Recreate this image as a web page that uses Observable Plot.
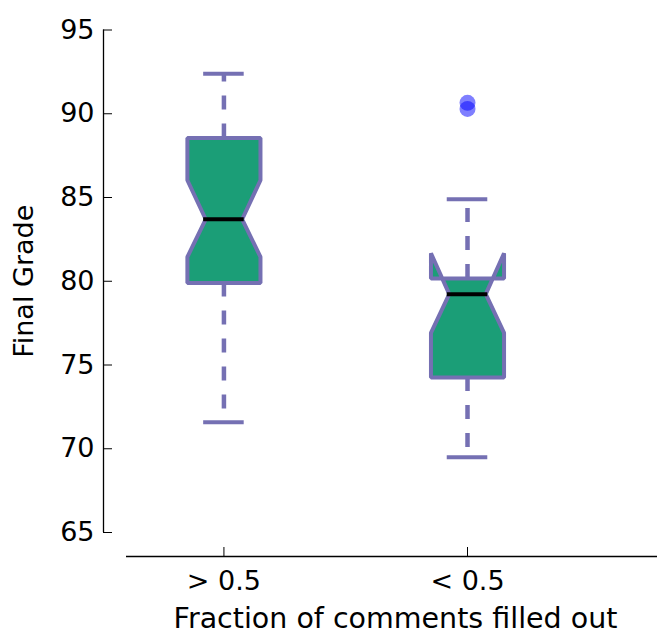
<!DOCTYPE html>
<html>
<head>
<meta charset="utf-8">
<script src="https://cdn.jsdelivr.net/npm/d3@7"></script>
<script src="https://cdn.jsdelivr.net/npm/@observablehq/plot@0.6"></script>
<style>
  html, body { margin: 0; padding: 0; background: white; }
</style>
</head>
<body>
<div id="chart"></div>
<script>
// ---- data ----
const groups = ["> 0.5", "< 0.5"];
const positions = [1, 2];
const whiskerLow = [71.58, 69.49];
const q1 = [79.9, 74.26];
const notchLow = [81.45, 76.92];
const median = [83.7, 79.23];
const notchHigh = [86.03, 81.67];
const q3 = [88.55, 80.16];
const whiskerHigh = [92.39, 84.89];
const flierGroup = ["< 0.5", "< 0.5"];
const flierValue = [90.65, 90.29];
const yTicks = [65, 70, 75, 80, 85, 90, 95];
const yLabel = "Final Grade";
const xLabel = "Fraction of comments filled out";

// ---- derived tables ----
const boxHalf = 0.15;   // half box width (x units)
const capHalf = 0.075;  // half notch waist / cap width
const boxes = groups.map((g, i) => ({
  group: g, pos: positions[i],
  lo: whiskerLow[i], q1: q1[i], nlo: notchLow[i], med: median[i],
  nhi: notchHigh[i], q3: q3[i], hi: whiskerHigh[i]
}));
const outline = boxes.flatMap(b => [
  {group: b.group, x: b.pos - boxHalf, y: b.q1},
  {group: b.group, x: b.pos + boxHalf, y: b.q1},
  {group: b.group, x: b.pos + boxHalf, y: b.nlo},
  {group: b.group, x: b.pos + capHalf, y: b.med},
  {group: b.group, x: b.pos + boxHalf, y: b.nhi},
  {group: b.group, x: b.pos + boxHalf, y: b.q3},
  {group: b.group, x: b.pos - boxHalf, y: b.q3},
  {group: b.group, x: b.pos - boxHalf, y: b.nhi},
  {group: b.group, x: b.pos - capHalf, y: b.med},
  {group: b.group, x: b.pos - boxHalf, y: b.nlo}
]);
const fliers = flierValue.map((v, i) => ({pos: positions[groups.indexOf(flierGroup[i])], value: v}));

const edge = "#7570b3";
const fillC = "#1b9e77";
const xDomain = [0.6, 2.78];
const yDomain = [65, 95];

const chart = Plot.plot({
  width: 657,
  height: 634,
  marginTop: 29.5,
  marginBottom: 102,
  marginLeft: 126,
  marginRight: 0,
  style: {fontFamily: "DejaVu Sans", fontSize: "27px", color: "black", background: "white"},
  x: {type: "linear", domain: xDomain},
  y: {type: "linear", domain: yDomain},
  marks: [
    // whiskers (dashed)
    Plot.ruleX(boxes, {x: "pos", y1: "q1", y2: "lo", stroke: edge, strokeWidth: 4.5, strokeDasharray: "14,14"}),
    Plot.ruleX(boxes, {x: "pos", y1: "q3", y2: "hi", stroke: edge, strokeWidth: 4.5, strokeDasharray: "14,14"}),
    // notched boxes
    Plot.line(outline, {x: "x", y: "y", z: "group", curve: "linear-closed", fill: fillC, stroke: edge, strokeWidth: 4, strokeLinejoin: "miter"}),
    // medians
    Plot.ruleY(boxes, {y: "med", x1: d => d.pos - capHalf, x2: d => d.pos + capHalf, stroke: "black", strokeWidth: 4, strokeLinecap: "square"}),
    // caps
    Plot.ruleY(boxes, {y: "lo", x1: d => d.pos - capHalf, x2: d => d.pos + capHalf, stroke: edge, strokeWidth: 4, strokeLinecap: "square"}),
    Plot.ruleY(boxes, {y: "hi", x1: d => d.pos - capHalf, x2: d => d.pos + capHalf, stroke: edge, strokeWidth: 4, strokeLinecap: "square"}),
    // outliers
    Plot.dot(fliers, {x: "pos", y: "value", r: 8, fill: "#0000ff", fillOpacity: 0.5, stroke: null}),
    // offset spines
    Plot.ruleX([xDomain[0]], {y1: yDomain[0], y2: yDomain[1], dx: -23, stroke: "black", strokeWidth: 1.3}),
    Plot.ruleY([yDomain[0]], {dy: 24, stroke: "black", strokeWidth: 1.3}),
    // axes
    Plot.axisY(yTicks, {anchor: "left", dx: -23, tickSize: -9, tickPadding: 18, fontSize: 27, label: null, stroke: "black"}),
    Plot.axisX(positions, {anchor: "bottom", dy: 24, tickSize: -9, tickPadding: 23, fontSize: 27, label: null,
      tickFormat: d => groups[positions.indexOf(d)], stroke: "black"}),
    // axis titles
    Plot.text([yLabel], {text: d => d, frameAnchor: "left", textAnchor: "middle", lineAnchor: "middle", rotate: -90, dx: -102, fontSize: 27, fill: "black"}),
    Plot.text([xLabel], {text: d => d, frameAnchor: "bottom", textAnchor: "middle", lineAnchor: "middle", dx: 3.5, dy: 86, fontSize: 28.5, fill: "black"})
  ]
});
document.getElementById("chart").appendChild(chart);
</script>
</body>
</html>
